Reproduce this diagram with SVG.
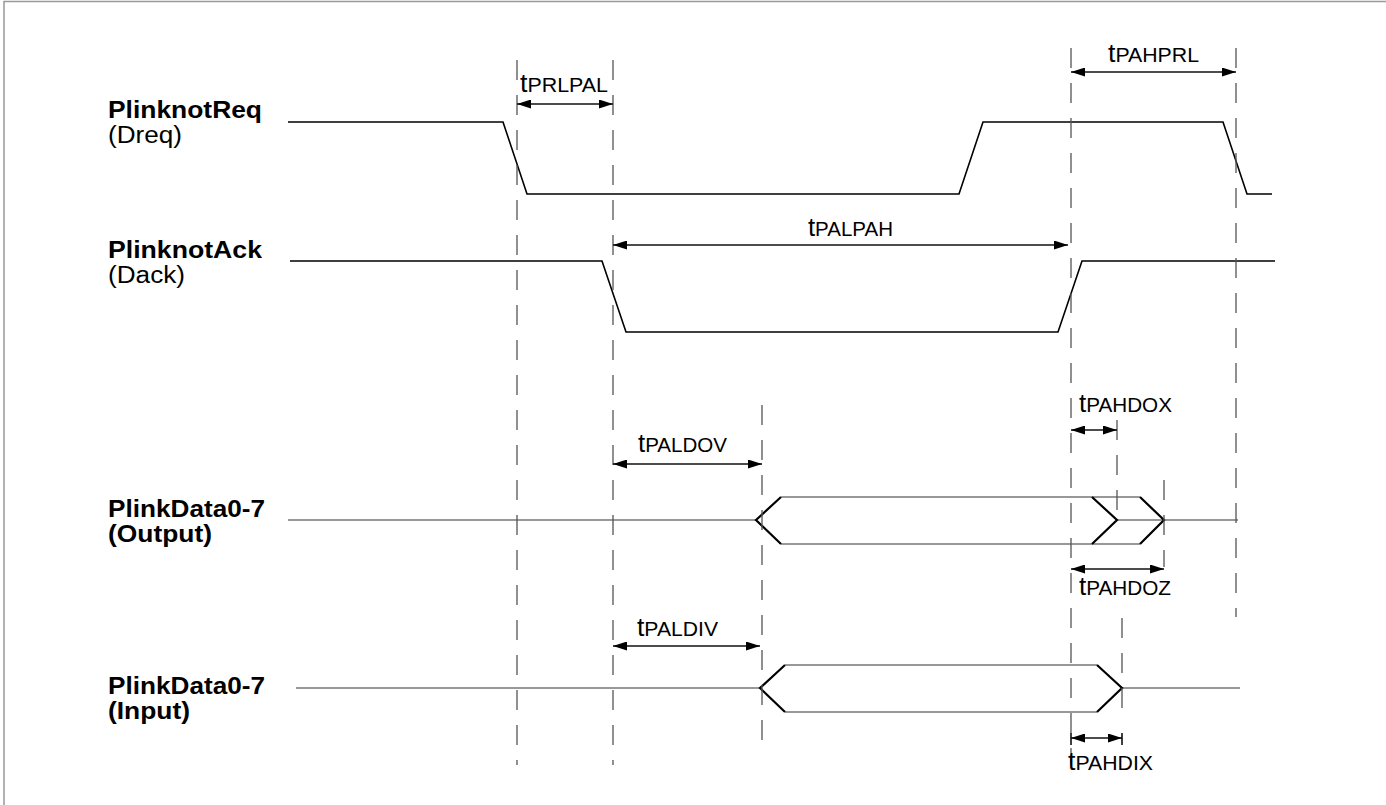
<svg xmlns="http://www.w3.org/2000/svg" width="1386" height="805" viewBox="0 0 1386 805">
<defs>
<marker id="ah" viewBox="0 0 14 9" refX="14" refY="4.5" markerWidth="14" markerHeight="9" markerUnits="userSpaceOnUse" orient="auto-start-reverse">
<path d="M0,0 L14,4.5 L0,9 Z" fill="#000"/>
</marker>
</defs>
<style>
.frame{fill:none;stroke:#999;stroke-width:1.5}
.wave{fill:none;stroke:#000;stroke-width:1.6}
.bus{fill:none;stroke:#777;stroke-width:1.6}
.chev{fill:none;stroke:#000;stroke-width:2.2}
.dash{fill:none;stroke:#555;stroke-width:1.3;stroke-dasharray:20 15}
.tick{fill:none;stroke:#000;stroke-width:1.5}
.dim{fill:none;stroke:#111;stroke-width:1.3;marker-start:url(#ah);marker-end:url(#ah)}
.sig{font-family:"Liberation Sans",Arial,sans-serif;font-size:23px;font-weight:bold;fill:#000}
.sub{font-family:"Liberation Sans",Arial,sans-serif;font-size:23px;fill:#000}
.lbl{font-family:"Liberation Sans",Arial,sans-serif;font-size:20px;fill:#000}
.big{font-size:25px}
</style>
<path class="frame" d="M4,805 V1.5 H1386"/>

<g id="labels">
<text class="sig" x="108" y="118" textLength="154" lengthAdjust="spacingAndGlyphs">PlinknotReq</text>
<text class="sub" x="108" y="143" textLength="74" lengthAdjust="spacingAndGlyphs">(Dreq)</text>
<text class="sig" x="108" y="258" textLength="154" lengthAdjust="spacingAndGlyphs">PlinknotAck</text>
<text class="sub" x="108" y="283" textLength="77" lengthAdjust="spacingAndGlyphs">(Dack)</text>
<text class="sig" x="108" y="517" textLength="157" lengthAdjust="spacingAndGlyphs">PlinkData0-7</text>
<text class="sig" x="108" y="542" textLength="104" lengthAdjust="spacingAndGlyphs">(Output)</text>
<text class="sig" x="108" y="694" textLength="157" lengthAdjust="spacingAndGlyphs">PlinkData0-7</text>
<text class="sig" x="108" y="719" textLength="82" lengthAdjust="spacingAndGlyphs">(Input)</text>
</g>

<g id="waveforms">
<path id="req" class="wave" d="M288,122 H503 L527,194 H959 L983,122 H1223 L1247,194 H1272"/>
<path id="ack" class="wave" d="M290,261 H602 L626,332 H1058 L1082,261 H1275"/>
<g id="dout">
<path class="bus" d="M288,520 H756 M781,497 H1140 M781,544 H1140 M1117,520 H1238"/>
<path class="chev" d="M781,497 L756,520 L781,544 M1092,497 L1117,520 L1092,544 M1140,497 L1164,520 L1140,544"/>
</g>
<g id="din">
<path class="bus" d="M296,688 H760 M785,665 H1097 M785,712 H1097 M1122,688 H1240"/>
<path class="chev" d="M785,665 L760,688 L785,712 M1097,665 L1122,688 L1097,712"/>
</g>
</g>

<g id="guides">
<path class="dash" d="M517,60 V765"/>
<path class="dash" d="M613,60 V765"/>
<path class="dash" d="M762,405 V752"/>
<path class="dash" d="M1071,48 V765"/>
<path class="dash" d="M1236,48 V617"/>
<path class="dash" d="M1117,420 V520"/>
<path class="dash" d="M1164,480 V567"/>
<path class="dash" d="M1122,618 V722"/>
<path class="tick" d="M1122,733 V745 M1071,733 V745"/>
</g>

<g id="connectors">
<line class="dim" x1="517" y1="104" x2="613" y2="104"/>
<line class="dim" x1="1071" y1="72" x2="1236" y2="72"/>
<line class="dim" x1="613" y1="245" x2="1068" y2="245"/>
<line class="dim" x1="1071" y1="430" x2="1117" y2="430"/>
<line class="dim" x1="1071" y1="569" x2="1164" y2="569"/>
<line class="dim" x1="613" y1="464" x2="762" y2="464"/>
<line class="dim" x1="613" y1="646" x2="760" y2="646"/>
<line class="dim" x1="1071" y1="738" x2="1122" y2="738"/>
</g>

<g id="timing-labels">
<text class="lbl" x="520" y="92" textLength="88" lengthAdjust="spacingAndGlyphs"><tspan class="big">t</tspan>PRLPAL</text>
<text class="lbl" x="1108" y="62" textLength="91" lengthAdjust="spacingAndGlyphs"><tspan class="big">t</tspan>PAHPRL</text>
<text class="lbl" x="808" y="236" textLength="85" lengthAdjust="spacingAndGlyphs"><tspan class="big">t</tspan>PALPAH</text>
<text class="lbl" x="1079" y="412" textLength="93" lengthAdjust="spacingAndGlyphs"><tspan class="big">t</tspan>PAHDOX</text>
<text class="lbl" x="1079" y="595" textLength="92" lengthAdjust="spacingAndGlyphs"><tspan class="big">t</tspan>PAHDOZ</text>
<text class="lbl" x="638" y="452" textLength="89" lengthAdjust="spacingAndGlyphs"><tspan class="big">t</tspan>PALDOV</text>
<text class="lbl" x="637" y="636" textLength="81" lengthAdjust="spacingAndGlyphs"><tspan class="big">t</tspan>PALDIV</text>
<text class="lbl" x="1068" y="770" textLength="85" lengthAdjust="spacingAndGlyphs"><tspan class="big">t</tspan>PAHDIX</text>
</g>
</svg>
